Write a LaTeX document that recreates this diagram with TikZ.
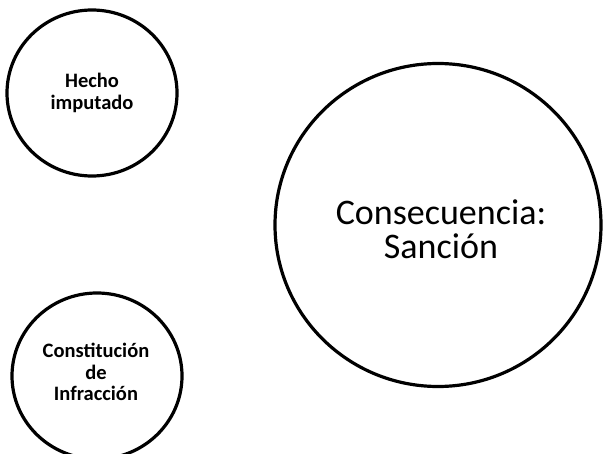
\documentclass[tikz,border=0pt]{standalone}
\usepackage{fontspec}
\setmainfont{Carlito}
\usetikzlibrary{shapes.geometric}
\begin{document}
\begin{tikzpicture}[x=1pt,y=-1pt,
  ring/.style={draw=black, line width=3.2pt, ellipse, inner sep=0pt, align=center},
  smalltext/.style={font=\bfseries\fontsize{20.5}{21.5}\selectfont},
  bigtext/.style={font=\fontsize{36}{34.5}\selectfont}]
\useasboundingbox (0,0) rectangle (604,454);
\node[ring, minimum width=170pt, minimum height=166pt, smalltext] (hecho) at (92,93) {Hecho\\imputado};
\node[ring, minimum width=170pt, minimum height=166pt] (constit) at (97,376) {};
\node[smalltext, align=center] (constittext) at (96,372) {Constitución\\de\\Infracción};
\node[ring, minimum width=326pt, minimum height=323pt] (sancion) at (438,225) {};
\node[bigtext, align=center] (sanciontext) at (441,229) {Consecuencia:\\Sanción};
\end{tikzpicture}
\end{document}
